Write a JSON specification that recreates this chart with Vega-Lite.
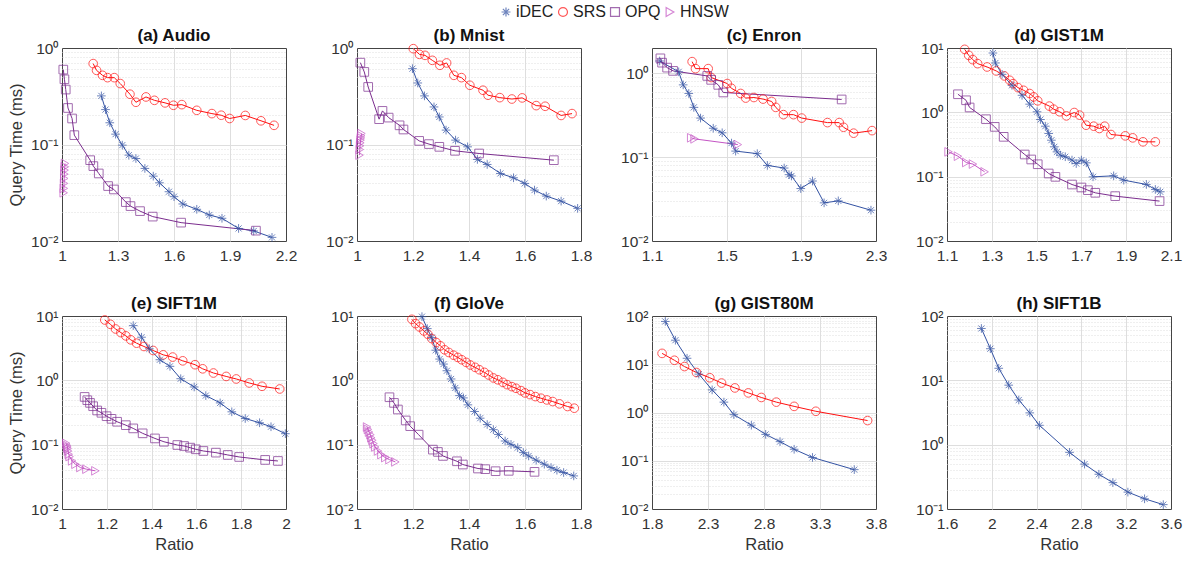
{
"$schema": "https://vega.github.io/schema/vega-lite/v6.json",
"padding": {"left": 8, "top": 4, "right": 5, "bottom": 5},
"datasets": {"all": [
{"panel":"a","method":"SRS","ratio":1.167,"time":0.689},{"panel":"a","method":"SRS","ratio":1.185,"time":0.587},{"panel":"a","method":"SRS","ratio":1.217,"time":0.521},{"panel":"a","method":"SRS","ratio":1.244,"time":0.493},{"panel":"a","method":"SRS","ratio":1.280,"time":0.493},{"panel":"a","method":"SRS","ratio":1.312,"time":0.428},{"panel":"a","method":"SRS","ratio":1.364,"time":0.332},{"panel":"a","method":"SRS","ratio":1.396,"time":0.274},{"panel":"a","method":"SRS","ratio":1.450,"time":0.311},{"panel":"a","method":"SRS","ratio":1.495,"time":0.287},{"panel":"a","method":"SRS","ratio":1.552,"time":0.270},{"panel":"a","method":"SRS","ratio":1.597,"time":0.255},{"panel":"a","method":"SRS","ratio":1.642,"time":0.259},{"panel":"a","method":"SRS","ratio":1.722,"time":0.226},{"panel":"a","method":"SRS","ratio":1.803,"time":0.209},{"panel":"a","method":"SRS","ratio":1.853,"time":0.201},{"panel":"a","method":"SRS","ratio":1.898,"time":0.186},{"panel":"a","method":"SRS","ratio":1.982,"time":0.200},{"panel":"a","method":"SRS","ratio":2.066,"time":0.176},{"panel":"a","method":"SRS","ratio":2.136,"time":0.158},
{"panel":"a","method":"iDEC","ratio":1.211,"time":0.319},{"panel":"a","method":"iDEC","ratio":1.233,"time":0.230},{"panel":"a","method":"iDEC","ratio":1.256,"time":0.168},{"panel":"a","method":"iDEC","ratio":1.287,"time":0.128},{"panel":"a","method":"iDEC","ratio":1.323,"time":0.0985},{"panel":"a","method":"iDEC","ratio":1.358,"time":0.0776},{"panel":"a","method":"iDEC","ratio":1.396,"time":0.0716},{"panel":"a","method":"iDEC","ratio":1.444,"time":0.0565},{"panel":"a","method":"iDEC","ratio":1.489,"time":0.047},{"panel":"a","method":"iDEC","ratio":1.522,"time":0.0401},{"panel":"a","method":"iDEC","ratio":1.573,"time":0.0324},{"panel":"a","method":"iDEC","ratio":1.600,"time":0.0288},{"panel":"a","method":"iDEC","ratio":1.647,"time":0.0242},{"panel":"a","method":"iDEC","ratio":1.722,"time":0.0213},{"panel":"a","method":"iDEC","ratio":1.789,"time":0.0186},{"panel":"a","method":"iDEC","ratio":1.857,"time":0.0172},{"panel":"a","method":"iDEC","ratio":1.946,"time":0.0135},{"panel":"a","method":"iDEC","ratio":2.027,"time":0.0127},{"panel":"a","method":"iDEC","ratio":2.125,"time":0.0109},
{"panel":"a","method":"OPQ","ratio":1.007,"time":0.597},{"panel":"a","method":"OPQ","ratio":1.013,"time":0.474},{"panel":"a","method":"OPQ","ratio":1.020,"time":0.371},{"panel":"a","method":"OPQ","ratio":1.032,"time":0.239},{"panel":"a","method":"OPQ","ratio":1.054,"time":0.186},{"panel":"a","method":"OPQ","ratio":1.066,"time":0.125},{"panel":"a","method":"OPQ","ratio":1.151,"time":0.0688},{"panel":"a","method":"OPQ","ratio":1.168,"time":0.0597},{"panel":"a","method":"OPQ","ratio":1.197,"time":0.0501},{"panel":"a","method":"OPQ","ratio":1.247,"time":0.0371},{"panel":"a","method":"OPQ","ratio":1.278,"time":0.0342},{"panel":"a","method":"OPQ","ratio":1.342,"time":0.0253},{"panel":"a","method":"OPQ","ratio":1.367,"time":0.0230},{"panel":"a","method":"OPQ","ratio":1.418,"time":0.0204},{"panel":"a","method":"OPQ","ratio":1.486,"time":0.0179},{"panel":"a","method":"OPQ","ratio":1.638,"time":0.0155},{"panel":"a","method":"OPQ","ratio":2.039,"time":0.0128},
{"panel":"a","method":"HNSW","ratio":1.016,"time":0.0636},{"panel":"a","method":"HNSW","ratio":1.015,"time":0.0587},{"panel":"a","method":"HNSW","ratio":1.014,"time":0.0542},{"panel":"a","method":"HNSW","ratio":1.013,"time":0.0493},{"panel":"a","method":"HNSW","ratio":1.012,"time":0.0445},{"panel":"a","method":"HNSW","ratio":1.011,"time":0.0395},{"panel":"a","method":"HNSW","ratio":1.010,"time":0.0351},{"panel":"a","method":"HNSW","ratio":1.009,"time":0.0316},
{"panel":"b","method":"SRS","ratio":1.201,"time":0.984},{"panel":"b","method":"SRS","ratio":1.223,"time":0.859},{"panel":"b","method":"SRS","ratio":1.243,"time":0.839},{"panel":"b","method":"SRS","ratio":1.269,"time":0.745},{"panel":"b","method":"SRS","ratio":1.296,"time":0.662},{"panel":"b","method":"SRS","ratio":1.320,"time":0.700},{"panel":"b","method":"SRS","ratio":1.346,"time":0.521},{"panel":"b","method":"SRS","ratio":1.373,"time":0.493},{"panel":"b","method":"SRS","ratio":1.403,"time":0.411},{"panel":"b","method":"SRS","ratio":1.450,"time":0.365},{"panel":"b","method":"SRS","ratio":1.468,"time":0.324},{"panel":"b","method":"SRS","ratio":1.510,"time":0.306},{"panel":"b","method":"SRS","ratio":1.553,"time":0.296},{"panel":"b","method":"SRS","ratio":1.590,"time":0.304},{"panel":"b","method":"SRS","ratio":1.640,"time":0.253},{"panel":"b","method":"SRS","ratio":1.672,"time":0.249},{"panel":"b","method":"SRS","ratio":1.729,"time":0.200},{"panel":"b","method":"SRS","ratio":1.768,"time":0.209},
{"panel":"b","method":"iDEC","ratio":1.198,"time":0.611},{"panel":"b","method":"iDEC","ratio":1.217,"time":0.434},{"panel":"b","method":"iDEC","ratio":1.241,"time":0.319},{"panel":"b","method":"iDEC","ratio":1.275,"time":0.245},{"panel":"b","method":"iDEC","ratio":1.294,"time":0.193},{"panel":"b","method":"iDEC","ratio":1.318,"time":0.141},{"panel":"b","method":"iDEC","ratio":1.352,"time":0.111},{"panel":"b","method":"iDEC","ratio":1.395,"time":0.0946},{"panel":"b","method":"iDEC","ratio":1.430,"time":0.070},{"panel":"b","method":"iDEC","ratio":1.465,"time":0.0621},{"panel":"b","method":"iDEC","ratio":1.512,"time":0.0501},{"panel":"b","method":"iDEC","ratio":1.559,"time":0.0452},{"panel":"b","method":"iDEC","ratio":1.599,"time":0.0395},{"panel":"b","method":"iDEC","ratio":1.634,"time":0.0337},{"panel":"b","method":"iDEC","ratio":1.676,"time":0.0292},{"panel":"b","method":"iDEC","ratio":1.729,"time":0.0259},{"panel":"b","method":"iDEC","ratio":1.788,"time":0.0218},
{"panel":"b","method":"OPQ","ratio":1.012,"time":0.705},{"panel":"b","method":"OPQ","ratio":1.026,"time":0.565},{"panel":"b","method":"OPQ","ratio":1.040,"time":0.395},{"panel":"b","method":"OPQ","ratio":1.079,"time":0.183},{"panel":"b","method":"OPQ","ratio":1.091,"time":0.223},{"panel":"b","method":"OPQ","ratio":1.113,"time":0.190},{"panel":"b","method":"OPQ","ratio":1.152,"time":0.158},{"panel":"b","method":"OPQ","ratio":1.166,"time":0.143},{"panel":"b","method":"OPQ","ratio":1.222,"time":0.109},{"panel":"b","method":"OPQ","ratio":1.257,"time":0.101},{"panel":"b","method":"OPQ","ratio":1.294,"time":0.0946},{"panel":"b","method":"OPQ","ratio":1.350,"time":0.0860},{"panel":"b","method":"OPQ","ratio":1.436,"time":0.0807},{"panel":"b","method":"OPQ","ratio":1.703,"time":0.0688},
{"panel":"b","method":"HNSW","ratio":1.016,"time":0.130},{"panel":"b","method":"HNSW","ratio":1.015,"time":0.123},{"panel":"b","method":"HNSW","ratio":1.014,"time":0.117},{"panel":"b","method":"HNSW","ratio":1.013,"time":0.111},{"panel":"b","method":"HNSW","ratio":1.012,"time":0.104},{"panel":"b","method":"HNSW","ratio":1.011,"time":0.0969},{"panel":"b","method":"HNSW","ratio":1.010,"time":0.0887},{"panel":"b","method":"HNSW","ratio":1.009,"time":0.0776},
{"panel":"c","method":"SRS","ratio":1.315,"time":1.375},{"panel":"c","method":"SRS","ratio":1.333,"time":1.135},{"panel":"c","method":"SRS","ratio":1.401,"time":1.135},{"panel":"c","method":"SRS","ratio":1.417,"time":0.889},{"panel":"c","method":"SRS","ratio":1.503,"time":0.754},{"panel":"c","method":"SRS","ratio":1.525,"time":0.663},{"panel":"c","method":"SRS","ratio":1.575,"time":0.574},{"panel":"c","method":"SRS","ratio":1.602,"time":0.506},{"panel":"c","method":"SRS","ratio":1.646,"time":0.514},{"panel":"c","method":"SRS","ratio":1.695,"time":0.492},{"panel":"c","method":"SRS","ratio":1.741,"time":0.461},{"panel":"c","method":"SRS","ratio":1.763,"time":0.392},{"panel":"c","method":"SRS","ratio":1.804,"time":0.321},{"panel":"c","method":"SRS","ratio":1.858,"time":0.321},{"panel":"c","method":"SRS","ratio":1.902,"time":0.292},{"panel":"c","method":"SRS","ratio":2.040,"time":0.258},{"panel":"c","method":"SRS","ratio":2.103,"time":0.258},{"panel":"c","method":"SRS","ratio":2.126,"time":0.227},{"panel":"c","method":"SRS","ratio":2.180,"time":0.193},{"panel":"c","method":"SRS","ratio":2.279,"time":0.207},
{"panel":"c","method":"iDEC","ratio":1.141,"time":1.40},{"panel":"c","method":"iDEC","ratio":1.243,"time":1.04},{"panel":"c","method":"iDEC","ratio":1.267,"time":0.727},{"panel":"c","method":"iDEC","ratio":1.297,"time":0.574},{"panel":"c","method":"iDEC","ratio":1.324,"time":0.392},{"panel":"c","method":"iDEC","ratio":1.360,"time":0.292},{"panel":"c","method":"iDEC","ratio":1.428,"time":0.221},{"panel":"c","method":"iDEC","ratio":1.476,"time":0.195},{"panel":"c","method":"iDEC","ratio":1.526,"time":0.147},{"panel":"c","method":"iDEC","ratio":1.548,"time":0.118},{"panel":"c","method":"iDEC","ratio":1.664,"time":0.110},{"panel":"c","method":"iDEC","ratio":1.718,"time":0.0796},{"panel":"c","method":"iDEC","ratio":1.808,"time":0.0741},{"panel":"c","method":"iDEC","ratio":1.834,"time":0.0618},{"panel":"c","method":"iDEC","ratio":1.847,"time":0.0596},{"panel":"c","method":"iDEC","ratio":1.897,"time":0.0422},{"panel":"c","method":"iDEC","ratio":1.960,"time":0.0519},{"panel":"c","method":"iDEC","ratio":2.022,"time":0.0285},{"panel":"c","method":"iDEC","ratio":2.098,"time":0.0301},{"panel":"c","method":"iDEC","ratio":2.273,"time":0.0233},
{"panel":"c","method":"OPQ","ratio":1.145,"time":1.506},{"panel":"c","method":"OPQ","ratio":1.154,"time":1.337},{"panel":"c","method":"OPQ","ratio":1.181,"time":1.167},{"panel":"c","method":"OPQ","ratio":1.213,"time":1.067},{"panel":"c","method":"OPQ","ratio":1.396,"time":0.929},{"panel":"c","method":"OPQ","ratio":1.417,"time":0.834},{"panel":"c","method":"OPQ","ratio":1.455,"time":0.727},{"panel":"c","method":"OPQ","ratio":1.482,"time":0.590},{"panel":"c","method":"OPQ","ratio":2.116,"time":0.487},
{"panel":"c","method":"HNSW","ratio":1.310,"time":0.170},{"panel":"c","method":"HNSW","ratio":1.328,"time":0.165},{"panel":"c","method":"HNSW","ratio":1.560,"time":0.141},
{"panel":"d","method":"SRS","ratio":1.179,"time":9.53},{"panel":"d","method":"SRS","ratio":1.197,"time":7.69},{"panel":"d","method":"SRS","ratio":1.215,"time":6.59},{"panel":"d","method":"SRS","ratio":1.237,"time":5.71},{"panel":"d","method":"SRS","ratio":1.279,"time":5.07},{"panel":"d","method":"SRS","ratio":1.320,"time":4.40},{"panel":"d","method":"SRS","ratio":1.356,"time":3.68},{"panel":"d","method":"SRS","ratio":1.380,"time":3.15},{"panel":"d","method":"SRS","ratio":1.395,"time":2.79},{"panel":"d","method":"SRS","ratio":1.417,"time":2.42},{"panel":"d","method":"SRS","ratio":1.442,"time":2.20},{"panel":"d","method":"SRS","ratio":1.469,"time":1.96},{"panel":"d","method":"SRS","ratio":1.487,"time":1.74},{"panel":"d","method":"SRS","ratio":1.505,"time":1.51},{"panel":"d","method":"SRS","ratio":1.557,"time":1.25},{"panel":"d","method":"SRS","ratio":1.576,"time":1.12},{"panel":"d","method":"SRS","ratio":1.603,"time":1.02},{"panel":"d","method":"SRS","ratio":1.633,"time":0.881},{"panel":"d","method":"SRS","ratio":1.668,"time":0.993},{"panel":"d","method":"SRS","ratio":1.692,"time":0.904},{"panel":"d","method":"SRS","ratio":1.721,"time":0.631},{"panel":"d","method":"SRS","ratio":1.755,"time":0.609},{"panel":"d","method":"SRS","ratio":1.780,"time":0.561},{"panel":"d","method":"SRS","ratio":1.804,"time":0.609},{"panel":"d","method":"SRS","ratio":1.832,"time":0.452},{"panel":"d","method":"SRS","ratio":1.896,"time":0.431},{"panel":"d","method":"SRS","ratio":1.929,"time":0.401},{"panel":"d","method":"SRS","ratio":1.975,"time":0.348},{"panel":"d","method":"SRS","ratio":2.030,"time":0.348},
{"panel":"d","method":"iDEC","ratio":1.305,"time":8.36},{"panel":"d","method":"iDEC","ratio":1.316,"time":5.85},{"panel":"d","method":"iDEC","ratio":1.346,"time":3.90},{"panel":"d","method":"iDEC","ratio":1.390,"time":2.63},{"panel":"d","method":"iDEC","ratio":1.435,"time":1.84},{"panel":"d","method":"iDEC","ratio":1.469,"time":1.34},{"panel":"d","method":"iDEC","ratio":1.502,"time":1.02},{"panel":"d","method":"iDEC","ratio":1.517,"time":0.773},{"panel":"d","method":"iDEC","ratio":1.539,"time":0.609},{"panel":"d","method":"iDEC","ratio":1.554,"time":0.469},{"panel":"d","method":"iDEC","ratio":1.566,"time":0.369},{"panel":"d","method":"iDEC","ratio":1.579,"time":0.291},{"panel":"d","method":"iDEC","ratio":1.591,"time":0.243},{"panel":"d","method":"iDEC","ratio":1.606,"time":0.216},{"panel":"d","method":"iDEC","ratio":1.628,"time":0.204},{"panel":"d","method":"iDEC","ratio":1.658,"time":0.181},{"panel":"d","method":"iDEC","ratio":1.677,"time":0.160},{"panel":"d","method":"iDEC","ratio":1.700,"time":0.181},{"panel":"d","method":"iDEC","ratio":1.722,"time":0.164},{"panel":"d","method":"iDEC","ratio":1.752,"time":0.0995},{"panel":"d","method":"iDEC","ratio":1.844,"time":0.103},{"panel":"d","method":"iDEC","ratio":1.889,"time":0.0883},{"panel":"d","method":"iDEC","ratio":1.990,"time":0.0757},{"panel":"d","method":"iDEC","ratio":2.030,"time":0.0633},{"panel":"d","method":"iDEC","ratio":2.052,"time":0.0582},
{"panel":"d","method":"OPQ","ratio":1.149,"time":1.91},{"panel":"d","method":"OPQ","ratio":1.185,"time":1.54},{"panel":"d","method":"OPQ","ratio":1.201,"time":1.19},{"panel":"d","method":"OPQ","ratio":1.274,"time":0.782},{"panel":"d","method":"OPQ","ratio":1.313,"time":0.594},{"panel":"d","method":"OPQ","ratio":1.353,"time":0.416},{"panel":"d","method":"OPQ","ratio":1.447,"time":0.221},{"panel":"d","method":"OPQ","ratio":1.476,"time":0.185},{"panel":"d","method":"OPQ","ratio":1.505,"time":0.156},{"panel":"d","method":"OPQ","ratio":1.554,"time":0.112},{"panel":"d","method":"OPQ","ratio":1.584,"time":0.0993},{"panel":"d","method":"OPQ","ratio":1.658,"time":0.0755},{"panel":"d","method":"OPQ","ratio":1.700,"time":0.0679},{"panel":"d","method":"OPQ","ratio":1.729,"time":0.0617},{"panel":"d","method":"OPQ","ratio":1.762,"time":0.0561},{"panel":"d","method":"OPQ","ratio":1.851,"time":0.0498},{"panel":"d","method":"OPQ","ratio":2.049,"time":0.0417},
{"panel":"d","method":"HNSW","ratio":1.107,"time":0.243},{"panel":"d","method":"HNSW","ratio":1.149,"time":0.208},{"panel":"d","method":"HNSW","ratio":1.186,"time":0.166},{"panel":"d","method":"HNSW","ratio":1.216,"time":0.157},{"panel":"d","method":"HNSW","ratio":1.268,"time":0.119},
{"panel":"e","method":"SRS","ratio":1.191,"time":8.67},{"panel":"e","method":"SRS","ratio":1.216,"time":7.43},{"panel":"e","method":"SRS","ratio":1.239,"time":6.29},{"panel":"e","method":"SRS","ratio":1.263,"time":5.52},{"panel":"e","method":"SRS","ratio":1.285,"time":4.91},{"panel":"e","method":"SRS","ratio":1.307,"time":4.26},{"panel":"e","method":"SRS","ratio":1.333,"time":3.78},{"panel":"e","method":"SRS","ratio":1.366,"time":3.36},{"panel":"e","method":"SRS","ratio":1.407,"time":2.91},{"panel":"e","method":"SRS","ratio":1.452,"time":2.49},{"panel":"e","method":"SRS","ratio":1.494,"time":2.30},{"panel":"e","method":"SRS","ratio":1.539,"time":2.01},{"panel":"e","method":"SRS","ratio":1.594,"time":1.75},{"panel":"e","method":"SRS","ratio":1.628,"time":1.51},{"panel":"e","method":"SRS","ratio":1.676,"time":1.30},{"panel":"e","method":"SRS","ratio":1.733,"time":1.15},{"panel":"e","method":"SRS","ratio":1.778,"time":1.05},{"panel":"e","method":"SRS","ratio":1.836,"time":0.910},{"panel":"e","method":"SRS","ratio":1.893,"time":0.808},{"panel":"e","method":"SRS","ratio":1.972,"time":0.734},
{"panel":"e","method":"iDEC","ratio":1.318,"time":7.09},{"panel":"e","method":"iDEC","ratio":1.355,"time":4.68},{"panel":"e","method":"iDEC","ratio":1.390,"time":3.09},{"panel":"e","method":"iDEC","ratio":1.437,"time":2.09},{"panel":"e","method":"iDEC","ratio":1.482,"time":1.65},{"panel":"e","method":"iDEC","ratio":1.530,"time":1.06},{"panel":"e","method":"iDEC","ratio":1.590,"time":0.789},{"panel":"e","method":"iDEC","ratio":1.642,"time":0.579},{"panel":"e","method":"iDEC","ratio":1.706,"time":0.446},{"panel":"e","method":"iDEC","ratio":1.758,"time":0.324},{"panel":"e","method":"iDEC","ratio":1.818,"time":0.255},{"panel":"e","method":"iDEC","ratio":1.882,"time":0.219},{"panel":"e","method":"iDEC","ratio":1.933,"time":0.190},{"panel":"e","method":"iDEC","ratio":1.997,"time":0.148},
{"panel":"e","method":"OPQ","ratio":1.101,"time":0.552},{"panel":"e","method":"OPQ","ratio":1.113,"time":0.491},{"panel":"e","method":"OPQ","ratio":1.125,"time":0.446},{"panel":"e","method":"OPQ","ratio":1.139,"time":0.396},{"panel":"e","method":"OPQ","ratio":1.157,"time":0.340},{"panel":"e","method":"OPQ","ratio":1.176,"time":0.313},{"panel":"e","method":"OPQ","ratio":1.199,"time":0.277},{"panel":"e","method":"OPQ","ratio":1.221,"time":0.252},{"panel":"e","method":"OPQ","ratio":1.246,"time":0.227},{"panel":"e","method":"OPQ","ratio":1.285,"time":0.201},{"panel":"e","method":"OPQ","ratio":1.318,"time":0.179},{"panel":"e","method":"OPQ","ratio":1.360,"time":0.150},{"panel":"e","method":"OPQ","ratio":1.415,"time":0.125},{"panel":"e","method":"OPQ","ratio":1.455,"time":0.111},{"panel":"e","method":"OPQ","ratio":1.515,"time":0.0988},{"panel":"e","method":"OPQ","ratio":1.545,"time":0.0953},{"panel":"e","method":"OPQ","ratio":1.572,"time":0.0899},{"panel":"e","method":"OPQ","ratio":1.597,"time":0.0847},{"panel":"e","method":"OPQ","ratio":1.631,"time":0.0798},{"panel":"e","method":"OPQ","ratio":1.687,"time":0.0752},{"panel":"e","method":"OPQ","ratio":1.740,"time":0.0692},{"panel":"e","method":"OPQ","ratio":1.791,"time":0.0644},{"panel":"e","method":"OPQ","ratio":1.907,"time":0.0579},{"panel":"e","method":"OPQ","ratio":1.964,"time":0.0558},
{"panel":"e","method":"HNSW","ratio":1.019,"time":0.105},{"panel":"e","method":"HNSW","ratio":1.022,"time":0.0977},{"panel":"e","method":"HNSW","ratio":1.024,"time":0.0921},{"panel":"e","method":"HNSW","ratio":1.025,"time":0.0868},{"panel":"e","method":"HNSW","ratio":1.027,"time":0.0798},{"panel":"e","method":"HNSW","ratio":1.030,"time":0.0709},{"panel":"e","method":"HNSW","ratio":1.034,"time":0.0652},{"panel":"e","method":"HNSW","ratio":1.045,"time":0.0559},{"panel":"e","method":"HNSW","ratio":1.060,"time":0.0496},{"panel":"e","method":"HNSW","ratio":1.082,"time":0.0441},{"panel":"e","method":"HNSW","ratio":1.109,"time":0.0416},{"panel":"e","method":"HNSW","ratio":1.149,"time":0.0392},
{"panel":"f","method":"SRS","ratio":1.196,"time":8.88},{"panel":"f","method":"SRS","ratio":1.209,"time":7.61},{"panel":"f","method":"SRS","ratio":1.223,"time":6.76},{"panel":"f","method":"SRS","ratio":1.239,"time":5.86},{"panel":"f","method":"SRS","ratio":1.253,"time":5.20},{"panel":"f","method":"SRS","ratio":1.267,"time":4.46},{"panel":"f","method":"SRS","ratio":1.283,"time":3.87},{"panel":"f","method":"SRS","ratio":1.298,"time":3.44},{"panel":"f","method":"SRS","ratio":1.313,"time":2.98},{"panel":"f","method":"SRS","ratio":1.328,"time":2.71},{"panel":"f","method":"SRS","ratio":1.345,"time":2.46},{"panel":"f","method":"SRS","ratio":1.360,"time":2.27},{"panel":"f","method":"SRS","ratio":1.374,"time":2.09},{"panel":"f","method":"SRS","ratio":1.390,"time":1.90},{"panel":"f","method":"SRS","ratio":1.405,"time":1.73},{"panel":"f","method":"SRS","ratio":1.422,"time":1.59},{"panel":"f","method":"SRS","ratio":1.437,"time":1.46},{"panel":"f","method":"SRS","ratio":1.455,"time":1.33},{"panel":"f","method":"SRS","ratio":1.470,"time":1.21},{"panel":"f","method":"SRS","ratio":1.487,"time":1.09},{"panel":"f","method":"SRS","ratio":1.503,"time":1.02},{"panel":"f","method":"SRS","ratio":1.521,"time":0.931},{"panel":"f","method":"SRS","ratio":1.536,"time":0.857},{"panel":"f","method":"SRS","ratio":1.553,"time":0.798},{"panel":"f","method":"SRS","ratio":1.568,"time":0.752},{"panel":"f","method":"SRS","ratio":1.586,"time":0.692},{"panel":"f","method":"SRS","ratio":1.600,"time":0.637},{"panel":"f","method":"SRS","ratio":1.618,"time":0.600},{"panel":"f","method":"SRS","ratio":1.637,"time":0.559},{"panel":"f","method":"SRS","ratio":1.657,"time":0.527},{"panel":"f","method":"SRS","ratio":1.678,"time":0.496},{"panel":"f","method":"SRS","ratio":1.699,"time":0.468},{"panel":"f","method":"SRS","ratio":1.723,"time":0.431},{"panel":"f","method":"SRS","ratio":1.752,"time":0.392},{"panel":"f","method":"SRS","ratio":1.776,"time":0.369},
{"panel":"f","method":"iDEC","ratio":1.232,"time":9.77},{"panel":"f","method":"iDEC","ratio":1.251,"time":6.37},{"panel":"f","method":"iDEC","ratio":1.267,"time":4.62},{"panel":"f","method":"iDEC","ratio":1.281,"time":2.94},{"panel":"f","method":"iDEC","ratio":1.295,"time":2.14},{"panel":"f","method":"iDEC","ratio":1.309,"time":1.79},{"panel":"f","method":"iDEC","ratio":1.321,"time":1.41},{"panel":"f","method":"iDEC","ratio":1.336,"time":1.05},{"panel":"f","method":"iDEC","ratio":1.351,"time":0.761},{"panel":"f","method":"iDEC","ratio":1.366,"time":0.579},{"panel":"f","method":"iDEC","ratio":1.380,"time":0.533},{"panel":"f","method":"iDEC","ratio":1.396,"time":0.416},{"panel":"f","method":"iDEC","ratio":1.420,"time":0.328},{"panel":"f","method":"iDEC","ratio":1.440,"time":0.258},{"panel":"f","method":"iDEC","ratio":1.465,"time":0.206},{"panel":"f","method":"iDEC","ratio":1.487,"time":0.171},{"panel":"f","method":"iDEC","ratio":1.505,"time":0.144},{"panel":"f","method":"iDEC","ratio":1.529,"time":0.114},{"panel":"f","method":"iDEC","ratio":1.550,"time":0.101},{"panel":"f","method":"iDEC","ratio":1.574,"time":0.0899},{"panel":"f","method":"iDEC","ratio":1.594,"time":0.0752},{"panel":"f","method":"iDEC","ratio":1.613,"time":0.0668},{"panel":"f","method":"iDEC","ratio":1.640,"time":0.0573},{"panel":"f","method":"iDEC","ratio":1.669,"time":0.0497},{"panel":"f","method":"iDEC","ratio":1.693,"time":0.0441},{"panel":"f","method":"iDEC","ratio":1.714,"time":0.0401},{"panel":"f","method":"iDEC","ratio":1.738,"time":0.0369},{"panel":"f","method":"iDEC","ratio":1.774,"time":0.0327},
{"panel":"f","method":"OPQ","ratio":1.116,"time":0.546},{"panel":"f","method":"OPQ","ratio":1.132,"time":0.446},{"panel":"f","method":"OPQ","ratio":1.146,"time":0.352},{"panel":"f","method":"OPQ","ratio":1.174,"time":0.238},{"panel":"f","method":"OPQ","ratio":1.190,"time":0.194},{"panel":"f","method":"OPQ","ratio":1.220,"time":0.143},{"panel":"f","method":"OPQ","ratio":1.271,"time":0.0837},{"panel":"f","method":"OPQ","ratio":1.289,"time":0.0771},{"panel":"f","method":"OPQ","ratio":1.307,"time":0.0668},{"panel":"f","method":"OPQ","ratio":1.357,"time":0.0552},{"panel":"f","method":"OPQ","ratio":1.378,"time":0.0491},{"panel":"f","method":"OPQ","ratio":1.432,"time":0.0426},{"panel":"f","method":"OPQ","ratio":1.458,"time":0.0416},{"panel":"f","method":"OPQ","ratio":1.495,"time":0.0387},{"panel":"f","method":"OPQ","ratio":1.542,"time":0.0392},{"panel":"f","method":"OPQ","ratio":1.634,"time":0.0378},
{"panel":"f","method":"HNSW","ratio":1.036,"time":0.188},{"panel":"f","method":"HNSW","ratio":1.039,"time":0.173},{"panel":"f","method":"HNSW","ratio":1.043,"time":0.157},{"panel":"f","method":"HNSW","ratio":1.048,"time":0.143},{"panel":"f","method":"HNSW","ratio":1.051,"time":0.128},{"panel":"f","method":"HNSW","ratio":1.055,"time":0.117},{"panel":"f","method":"HNSW","ratio":1.059,"time":0.104},{"panel":"f","method":"HNSW","ratio":1.065,"time":0.0920},{"panel":"f","method":"HNSW","ratio":1.075,"time":0.0798},{"panel":"f","method":"HNSW","ratio":1.087,"time":0.0700},{"panel":"f","method":"HNSW","ratio":1.101,"time":0.0629},{"panel":"f","method":"HNSW","ratio":1.116,"time":0.0586},{"panel":"f","method":"HNSW","ratio":1.137,"time":0.0539},
{"panel":"g","method":"SRS","ratio":1.890,"time":16.8},{"panel":"g","method":"SRS","ratio":2.000,"time":12.1},{"panel":"g","method":"SRS","ratio":2.090,"time":8.96},{"panel":"g","method":"SRS","ratio":2.197,"time":6.75},{"panel":"g","method":"SRS","ratio":2.316,"time":5.25},{"panel":"g","method":"SRS","ratio":2.421,"time":4.08},{"panel":"g","method":"SRS","ratio":2.540,"time":3.23},{"panel":"g","method":"SRS","ratio":2.660,"time":2.55},{"panel":"g","method":"SRS","ratio":2.776,"time":2.05},{"panel":"g","method":"SRS","ratio":2.910,"time":1.64},{"panel":"g","method":"SRS","ratio":3.069,"time":1.34},{"panel":"g","method":"SRS","ratio":3.263,"time":1.06},{"panel":"g","method":"SRS","ratio":3.725,"time":0.681},
{"panel":"g","method":"iDEC","ratio":1.919,"time":77.1},{"panel":"g","method":"iDEC","ratio":2.009,"time":31.5},{"panel":"g","method":"iDEC","ratio":2.113,"time":13.3},{"panel":"g","method":"iDEC","ratio":2.218,"time":6.24},{"panel":"g","method":"iDEC","ratio":2.337,"time":2.94},{"panel":"g","method":"iDEC","ratio":2.442,"time":1.64},{"panel":"g","method":"iDEC","ratio":2.531,"time":0.904},{"panel":"g","method":"iDEC","ratio":2.687,"time":0.546},{"panel":"g","method":"iDEC","ratio":2.815,"time":0.352},{"panel":"g","method":"iDEC","ratio":2.943,"time":0.249},{"panel":"g","method":"iDEC","ratio":3.069,"time":0.173},{"panel":"g","method":"iDEC","ratio":3.233,"time":0.117},{"panel":"g","method":"iDEC","ratio":3.606,"time":0.0654},
{"panel":"h","method":"iDEC","ratio":1.907,"time":64.0},{"panel":"h","method":"iDEC","ratio":1.987,"time":31.0},{"panel":"h","method":"iDEC","ratio":2.062,"time":15.4},{"panel":"h","method":"iDEC","ratio":2.151,"time":8.41},{"panel":"h","method":"iDEC","ratio":2.241,"time":4.95},{"panel":"h","method":"iDEC","ratio":2.339,"time":3.12},{"panel":"h","method":"iDEC","ratio":2.425,"time":2.00},{"panel":"h","method":"iDEC","ratio":2.694,"time":0.760},{"panel":"h","method":"iDEC","ratio":2.828,"time":0.499},{"panel":"h","method":"iDEC","ratio":2.956,"time":0.347},{"panel":"h","method":"iDEC","ratio":3.081,"time":0.257},{"panel":"h","method":"iDEC","ratio":3.215,"time":0.183},{"panel":"h","method":"iDEC","ratio":3.364,"time":0.144},{"panel":"h","method":"iDEC","ratio":3.531,"time":0.117}
]},
"data": {"name": "all"},
"columns": 4,
"spacing": {"row": 75, "column": 71},
"bounds": "flush",
"concat": [
{"title": {"text": "(a) Audio", "offset": -4}, "width": 224, "height": 193, "transform": [{"filter": "datum.panel == 'a'"}],
 "encoding": {
  "x": {"field": "ratio", "type": "quantitative", "scale": {"domain": [1, 2.2], "nice": false, "zero": false}, "axis": {"values": [1, 1.3, 1.6, 1.9, 2.2], "title": null, "gridOpacity": {"condition": {"test": "datum.value == 1 || datum.value == 2.2", "value": 0}, "value": 1}}},
  "y": {"field": "time", "type": "quantitative", "scale": {"type": "log", "domain": [0.01, 1], "nice": false}, "axis": {"values": [0.01,0.02,0.03,0.04,0.05,0.06,0.07,0.08,0.09,0.1,0.2,0.3,0.4,0.5,0.6,0.7,0.8,0.9,1], "title": "Query Time (ms)", "gridOpacity": {"condition": {"test": "datum.value == 0.01 || datum.value == 1", "value": 0}, "value": 1}}},
  "color": {"field": "method", "type": "nominal", "scale": {"domain": ["iDEC","SRS","OPQ","HNSW"], "range": ["#3352a3","#ff1010","#7b2d8e","#c455c4"]}, "legend": {"orient": "none", "legendX": 436, "legendY": -44, "direction": "horizontal", "title": null}}
 },
 "layer": [{"mark": {"type": "line", "strokeWidth": 1}},
  {"mark": {"type": "point", "filled": false, "size": 75, "strokeWidth": 1},
   "encoding": {"shape": {"field": "method", "type": "nominal", "scale": {"domain": ["iDEC","SRS","OPQ","HNSW"], "range": ["M-1,0L1,0M0,-1L0,1M-0.7,-0.7L0.7,0.7M-0.7,0.7L0.7,-0.7","circle","square","triangle-right"]}, "legend": {"orient": "none", "legendX": 436, "legendY": -44, "direction": "horizontal", "title": null}}}}]
},
{"title": {"text": "(b) Mnist", "offset": -4}, "width": 224, "height": 193, "transform": [{"filter": "datum.panel == 'b'"}],
 "encoding": {
  "x": {"field": "ratio", "type": "quantitative", "scale": {"domain": [1, 1.8], "nice": false, "zero": false}, "axis": {"values": [1, 1.2, 1.4, 1.6, 1.8], "title": null, "gridOpacity": {"condition": {"test": "datum.value == 1 || datum.value == 1.8", "value": 0}, "value": 1}}},
  "y": {"field": "time", "type": "quantitative", "scale": {"type": "log", "domain": [0.01, 1], "nice": false}, "axis": {"values": [0.01,0.02,0.03,0.04,0.05,0.06,0.07,0.08,0.09,0.1,0.2,0.3,0.4,0.5,0.6,0.7,0.8,0.9,1], "title": null, "gridOpacity": {"condition": {"test": "datum.value == 0.01 || datum.value == 1", "value": 0}, "value": 1}}},
  "color": {"field": "method", "type": "nominal", "scale": {"domain": ["iDEC","SRS","OPQ","HNSW"], "range": ["#3352a3","#ff1010","#7b2d8e","#c455c4"]}, "legend": {"orient": "none", "legendX": 436, "legendY": -44, "direction": "horizontal", "title": null}}
 },
 "layer": [{"mark": {"type": "line", "strokeWidth": 1}},
  {"mark": {"type": "point", "filled": false, "size": 75, "strokeWidth": 1},
   "encoding": {"shape": {"field": "method", "type": "nominal", "scale": {"domain": ["iDEC","SRS","OPQ","HNSW"], "range": ["M-1,0L1,0M0,-1L0,1M-0.7,-0.7L0.7,0.7M-0.7,0.7L0.7,-0.7","circle","square","triangle-right"]}, "legend": {"orient": "none", "legendX": 436, "legendY": -44, "direction": "horizontal", "title": null}}}}]
},
{"title": {"text": "(c) Enron", "offset": 3}, "width": 224, "height": 193, "transform": [{"filter": "datum.panel == 'c'"}],
 "encoding": {
  "x": {"field": "ratio", "type": "quantitative", "scale": {"domain": [1.1, 2.3], "nice": false, "zero": false}, "axis": {"values": [1.1, 1.5, 1.9, 2.3], "title": null, "gridOpacity": {"condition": {"test": "datum.value == 1.1 || datum.value == 2.3", "value": 0}, "value": 1}}},
  "y": {"field": "time", "type": "quantitative", "scale": {"type": "log", "domain": [0.01, 2], "nice": false}, "axis": {"values": [0.01,0.02,0.03,0.04,0.05,0.06,0.07,0.08,0.09,0.1,0.2,0.3,0.4,0.5,0.6,0.7,0.8,0.9,1], "title": null, "gridOpacity": {"condition": {"test": "datum.value == 0.01", "value": 0}, "value": 1}}},
  "color": {"field": "method", "type": "nominal", "scale": {"domain": ["iDEC","SRS","OPQ","HNSW"], "range": ["#3352a3","#ff1010","#7b2d8e","#c455c4"]}, "legend": {"orient": "none", "legendX": 436, "legendY": -44, "direction": "horizontal", "title": null}}
 },
 "layer": [{"mark": {"type": "line", "strokeWidth": 1}},
  {"mark": {"type": "point", "filled": false, "size": 75, "strokeWidth": 1},
   "encoding": {"shape": {"field": "method", "type": "nominal", "scale": {"domain": ["iDEC","SRS","OPQ","HNSW"], "range": ["M-1,0L1,0M0,-1L0,1M-0.7,-0.7L0.7,0.7M-0.7,0.7L0.7,-0.7","circle","square","triangle-right"]}, "legend": {"orient": "none", "legendX": 436, "legendY": -44, "direction": "horizontal", "title": null}}}}]
},
{"title": {"text": "(d) GIST1M", "offset": -4}, "width": 224, "height": 193, "transform": [{"filter": "datum.panel == 'd'"}],
 "encoding": {
  "x": {"field": "ratio", "type": "quantitative", "scale": {"domain": [1.1, 2.1], "nice": false, "zero": false}, "axis": {"values": [1.1, 1.3, 1.5, 1.7, 1.9, 2.1], "title": null, "gridOpacity": {"condition": {"test": "datum.value == 1.1 || datum.value == 2.1", "value": 0}, "value": 1}}},
  "y": {"field": "time", "type": "quantitative", "scale": {"type": "log", "domain": [0.01, 10], "nice": false}, "axis": {"values": [0.01,0.02,0.03,0.04,0.05,0.06,0.07,0.08,0.09,0.1,0.2,0.3,0.4,0.5,0.6,0.7,0.8,0.9,1,2,3,4,5,6,7,8,9,10], "title": null, "gridOpacity": {"condition": {"test": "datum.value == 0.01 || datum.value == 10", "value": 0}, "value": 1}}},
  "color": {"field": "method", "type": "nominal", "scale": {"domain": ["iDEC","SRS","OPQ","HNSW"], "range": ["#3352a3","#ff1010","#7b2d8e","#c455c4"]}, "legend": {"orient": "none", "legendX": 436, "legendY": -44, "direction": "horizontal", "title": null}}
 },
 "layer": [{"mark": {"type": "line", "strokeWidth": 1}},
  {"mark": {"type": "point", "filled": false, "size": 75, "strokeWidth": 1},
   "encoding": {"shape": {"field": "method", "type": "nominal", "scale": {"domain": ["iDEC","SRS","OPQ","HNSW"], "range": ["M-1,0L1,0M0,-1L0,1M-0.7,-0.7L0.7,0.7M-0.7,0.7L0.7,-0.7","circle","square","triangle-right"]}, "legend": {"orient": "none", "legendX": 436, "legendY": -44, "direction": "horizontal", "title": null}}}}]
},
{"title": {"text": "(e) SIFT1M", "offset": -4}, "width": 224, "height": 193, "transform": [{"filter": "datum.panel == 'e'"}],
 "encoding": {
  "x": {"field": "ratio", "type": "quantitative", "scale": {"domain": [1, 2], "nice": false, "zero": false}, "axis": {"values": [1, 1.2, 1.4, 1.6, 1.8, 2], "title": "Ratio", "gridOpacity": {"condition": {"test": "datum.value == 1 || datum.value == 2", "value": 0}, "value": 1}}},
  "y": {"field": "time", "type": "quantitative", "scale": {"type": "log", "domain": [0.01, 10], "nice": false}, "axis": {"values": [0.01,0.02,0.03,0.04,0.05,0.06,0.07,0.08,0.09,0.1,0.2,0.3,0.4,0.5,0.6,0.7,0.8,0.9,1,2,3,4,5,6,7,8,9,10], "title": "Query Time (ms)", "gridOpacity": {"condition": {"test": "datum.value == 0.01 || datum.value == 10", "value": 0}, "value": 1}}},
  "color": {"field": "method", "type": "nominal", "scale": {"domain": ["iDEC","SRS","OPQ","HNSW"], "range": ["#3352a3","#ff1010","#7b2d8e","#c455c4"]}, "legend": {"orient": "none", "legendX": 436, "legendY": -44, "direction": "horizontal", "title": null}}
 },
 "layer": [{"mark": {"type": "line", "strokeWidth": 1}},
  {"mark": {"type": "point", "filled": false, "size": 75, "strokeWidth": 1},
   "encoding": {"shape": {"field": "method", "type": "nominal", "scale": {"domain": ["iDEC","SRS","OPQ","HNSW"], "range": ["M-1,0L1,0M0,-1L0,1M-0.7,-0.7L0.7,0.7M-0.7,0.7L0.7,-0.7","circle","square","triangle-right"]}, "legend": {"orient": "none", "legendX": 436, "legendY": -44, "direction": "horizontal", "title": null}}}}]
},
{"title": {"text": "(f) GloVe", "offset": -4}, "width": 224, "height": 193, "transform": [{"filter": "datum.panel == 'f'"}],
 "encoding": {
  "x": {"field": "ratio", "type": "quantitative", "scale": {"domain": [1, 1.8], "nice": false, "zero": false}, "axis": {"values": [1, 1.2, 1.4, 1.6, 1.8], "title": "Ratio", "gridOpacity": {"condition": {"test": "datum.value == 1 || datum.value == 1.8", "value": 0}, "value": 1}}},
  "y": {"field": "time", "type": "quantitative", "scale": {"type": "log", "domain": [0.01, 10], "nice": false}, "axis": {"values": [0.01,0.02,0.03,0.04,0.05,0.06,0.07,0.08,0.09,0.1,0.2,0.3,0.4,0.5,0.6,0.7,0.8,0.9,1,2,3,4,5,6,7,8,9,10], "title": null, "gridOpacity": {"condition": {"test": "datum.value == 0.01 || datum.value == 10", "value": 0}, "value": 1}}},
  "color": {"field": "method", "type": "nominal", "scale": {"domain": ["iDEC","SRS","OPQ","HNSW"], "range": ["#3352a3","#ff1010","#7b2d8e","#c455c4"]}, "legend": {"orient": "none", "legendX": 436, "legendY": -44, "direction": "horizontal", "title": null}}
 },
 "layer": [{"mark": {"type": "line", "strokeWidth": 1}},
  {"mark": {"type": "point", "filled": false, "size": 75, "strokeWidth": 1},
   "encoding": {"shape": {"field": "method", "type": "nominal", "scale": {"domain": ["iDEC","SRS","OPQ","HNSW"], "range": ["M-1,0L1,0M0,-1L0,1M-0.7,-0.7L0.7,0.7M-0.7,0.7L0.7,-0.7","circle","square","triangle-right"]}, "legend": {"orient": "none", "legendX": 436, "legendY": -44, "direction": "horizontal", "title": null}}}}]
},
{"title": {"text": "(g) GIST80M", "offset": -4}, "width": 224, "height": 193, "transform": [{"filter": "datum.panel == 'g'"}],
 "encoding": {
  "x": {"field": "ratio", "type": "quantitative", "scale": {"domain": [1.8, 3.8], "nice": false, "zero": false}, "axis": {"values": [1.8, 2.3, 2.8, 3.3, 3.8], "title": "Ratio", "gridOpacity": {"condition": {"test": "datum.value == 1.8 || datum.value == 3.8", "value": 0}, "value": 1}}},
  "y": {"field": "time", "type": "quantitative", "scale": {"type": "log", "domain": [0.01, 100], "nice": false}, "axis": {"values": [0.01,0.02,0.03,0.04,0.05,0.06,0.07,0.08,0.09,0.1,0.2,0.3,0.4,0.5,0.6,0.7,0.8,0.9,1,2,3,4,5,6,7,8,9,10,20,30,40,50,60,70,80,90,100], "title": null, "gridOpacity": {"condition": {"test": "datum.value == 0.01 || datum.value == 100", "value": 0}, "value": 1}}},
  "color": {"field": "method", "type": "nominal", "scale": {"domain": ["iDEC","SRS","OPQ","HNSW"], "range": ["#3352a3","#ff1010","#7b2d8e","#c455c4"]}, "legend": {"orient": "none", "legendX": 436, "legendY": -44, "direction": "horizontal", "title": null}}
 },
 "layer": [{"mark": {"type": "line", "strokeWidth": 1}},
  {"mark": {"type": "point", "filled": false, "size": 75, "strokeWidth": 1},
   "encoding": {"shape": {"field": "method", "type": "nominal", "scale": {"domain": ["iDEC","SRS","OPQ","HNSW"], "range": ["M-1,0L1,0M0,-1L0,1M-0.7,-0.7L0.7,0.7M-0.7,0.7L0.7,-0.7","circle","square","triangle-right"]}, "legend": {"orient": "none", "legendX": 436, "legendY": -44, "direction": "horizontal", "title": null}}}}]
},
{"title": {"text": "(h) SIFT1B", "offset": -4}, "width": 224, "height": 193, "transform": [{"filter": "datum.panel == 'h'"}],
 "encoding": {
  "x": {"field": "ratio", "type": "quantitative", "scale": {"domain": [1.6, 3.6], "nice": false, "zero": false}, "axis": {"values": [1.6, 2, 2.4, 2.8, 3.2, 3.6], "title": "Ratio", "gridOpacity": {"condition": {"test": "datum.value == 1.6 || datum.value == 3.6", "value": 0}, "value": 1}}},
  "y": {"field": "time", "type": "quantitative", "scale": {"type": "log", "domain": [0.1, 100], "nice": false}, "axis": {"values": [0.1,0.2,0.3,0.4,0.5,0.6,0.7,0.8,0.9,1,2,3,4,5,6,7,8,9,10,20,30,40,50,60,70,80,90,100], "title": null, "gridOpacity": {"condition": {"test": "datum.value == 0.1 || datum.value == 100", "value": 0}, "value": 1}}},
  "color": {"field": "method", "type": "nominal", "scale": {"domain": ["iDEC","SRS","OPQ","HNSW"], "range": ["#3352a3","#ff1010","#7b2d8e","#c455c4"]}, "legend": {"orient": "none", "legendX": 436, "legendY": -44, "direction": "horizontal", "title": null}}
 },
 "layer": [{"mark": {"type": "line", "strokeWidth": 1}},
  {"mark": {"type": "point", "filled": false, "size": 75, "strokeWidth": 1},
   "encoding": {"shape": {"field": "method", "type": "nominal", "scale": {"domain": ["iDEC","SRS","OPQ","HNSW"], "range": ["M-1,0L1,0M0,-1L0,1M-0.7,-0.7L0.7,0.7M-0.7,0.7L0.7,-0.7","circle","square","triangle-right"]}, "legend": {"orient": "none", "legendX": 436, "legendY": -44, "direction": "horizontal", "title": null}}}}]
}
],
"config": {
 "font": "Liberation Sans",
 "background": "white",
 "view": {"stroke": "#444444", "strokeWidth": 1},
 "title": {"fontSize": 17, "fontWeight": "bold", "color": "#111111", "frame": "group"},
 "axis": {
  "labelFontSize": 15.5, "labelColor": "#333333", "titleFontSize": 16.5, "titleFontWeight": "normal", "titleColor": "#333333",
  "domain": false, "ticks": false, "labelFlush": false, "labelOverlap": false,
  "gridColor": "#dedede", "gridWidth": 1
 },
 "axisX": {"format": ".2~f", "titlePadding": 5, "labelPadding": 7},
 "axisY": {
  "titlePadding": 6, "labelPadding": 4,
  "gridDash": {"condition": {"test": "datum.value == 0.01 || datum.value == 0.1 || datum.value == 1 || datum.value == 10 || datum.value == 100", "value": []}, "value": [1, 2]},
  "labelExpr": "datum.value == 100 ? '10²' : datum.value == 10 ? '10¹' : datum.value == 1 ? '10⁰' : datum.value == 0.1 ? '10⁻¹' : datum.value == 0.01 ? '10⁻²' : ''"
 },
 "legend": {"labelFontSize": 16, "labelColor": "#222222", "symbolSize": 80, "symbolStrokeWidth": 1.2, "columnPadding": 1, "labelOffset": 2, "padding": 0}
}
}
